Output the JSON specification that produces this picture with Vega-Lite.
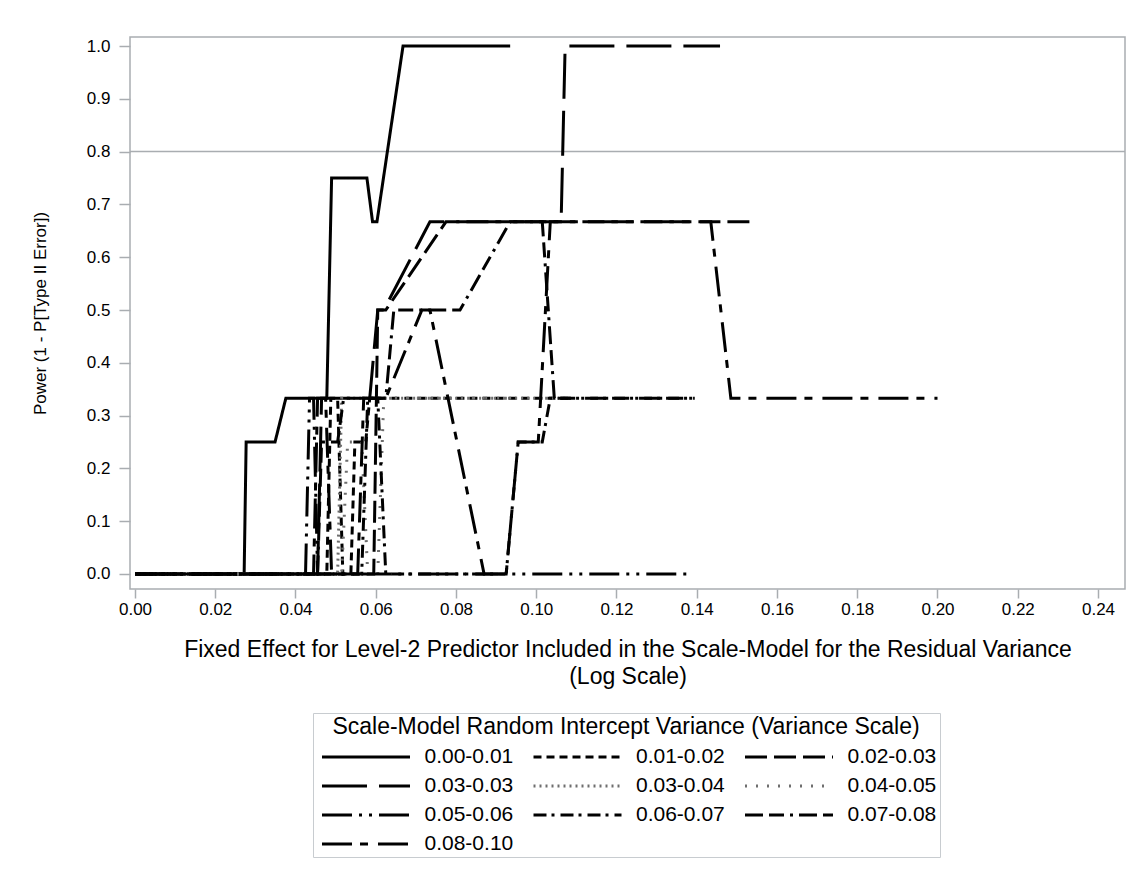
{
  "$schema": "https://vega.github.io/schema/vega-lite/v6.json",
  "width": 995,
  "height": 552,
  "autosize": {"type": "none"},
  "padding": {"left": 130, "top": 37, "right": 23, "bottom": 280},
  "background": "white",
  "config": {
    "font": "Liberation Sans",
    "view": {"stroke": "#a9adb1", "strokeWidth": 1.5}
  },
  "layer": [
    {
      "data": {"values": [{"ref": 0.8}]},
      "mark": {"type": "rule", "color": "#a9adb1", "strokeWidth": 1.5},
      "encoding": {
        "y": {"datum": 0.8, "type": "quantitative"}
      }
    },
    {
      "data": {
        "values": [
          {"s": "0.00-0.01", "x": 0, "y": 0},
          {"s": "0.00-0.01", "x": 0.0272, "y": 0},
          {"s": "0.00-0.01", "x": 0.0277, "y": 0.25},
          {"s": "0.00-0.01", "x": 0.0349, "y": 0.25},
          {"s": "0.00-0.01", "x": 0.0376, "y": 0.333},
          {"s": "0.00-0.01", "x": 0.0478, "y": 0.333},
          {"s": "0.00-0.01", "x": 0.049, "y": 0.75},
          {"s": "0.00-0.01", "x": 0.0578, "y": 0.75},
          {"s": "0.00-0.01", "x": 0.0592, "y": 0.667},
          {"s": "0.00-0.01", "x": 0.0603, "y": 0.667},
          {"s": "0.00-0.01", "x": 0.0668, "y": 1.0},
          {"s": "0.00-0.01", "x": 0.0935, "y": 1.0},

          {"s": "0.01-0.02", "x": 0, "y": 0},
          {"s": "0.01-0.02", "x": 0.0478, "y": 0},
          {"s": "0.01-0.02", "x": 0.0488, "y": 0.333},
          {"s": "0.01-0.02", "x": 0.0505, "y": 0.333},
          {"s": "0.01-0.02", "x": 0.0518, "y": 0},
          {"s": "0.01-0.02", "x": 0.0538, "y": 0},
          {"s": "0.01-0.02", "x": 0.0548, "y": 0.25},
          {"s": "0.01-0.02", "x": 0.0575, "y": 0.25},
          {"s": "0.01-0.02", "x": 0.0585, "y": 0.333},
          {"s": "0.01-0.02", "x": 0.1085, "y": 0.333},

          {"s": "0.02-0.03", "x": 0, "y": 0},
          {"s": "0.02-0.03", "x": 0.0595, "y": 0},
          {"s": "0.02-0.03", "x": 0.0605, "y": 0.5},
          {"s": "0.02-0.03", "x": 0.0625, "y": 0.5},
          {"s": "0.02-0.03", "x": 0.0775, "y": 0.667},
          {"s": "0.02-0.03", "x": 0.154, "y": 0.667},

          {"s": "0.03-0.03", "x": 0, "y": 0},
          {"s": "0.03-0.03", "x": 0.0455, "y": 0},
          {"s": "0.03-0.03", "x": 0.0465, "y": 0.333},
          {"s": "0.03-0.03", "x": 0.0585, "y": 0.333},
          {"s": "0.03-0.03", "x": 0.0605, "y": 0.5},
          {"s": "0.03-0.03", "x": 0.062, "y": 0.5},
          {"s": "0.03-0.03", "x": 0.0735, "y": 0.667},
          {"s": "0.03-0.03", "x": 0.1062, "y": 0.667},
          {"s": "0.03-0.03", "x": 0.1072, "y": 1.0},
          {"s": "0.03-0.03", "x": 0.1458, "y": 1.0},

          {"s": "0.03-0.04", "x": 0, "y": 0},
          {"s": "0.03-0.04", "x": 0.0505, "y": 0},
          {"s": "0.03-0.04", "x": 0.0515, "y": 0.333},
          {"s": "0.03-0.04", "x": 0.1085, "y": 0.333},

          {"s": "0.04-0.05", "x": 0, "y": 0},
          {"s": "0.04-0.05", "x": 0.0515, "y": 0},
          {"s": "0.04-0.05", "x": 0.053, "y": 0.25},
          {"s": "0.04-0.05", "x": 0.0565, "y": 0.25},
          {"s": "0.04-0.05", "x": 0.058, "y": 0},
          {"s": "0.04-0.05", "x": 0.0605, "y": 0},
          {"s": "0.04-0.05", "x": 0.062, "y": 0.333},
          {"s": "0.04-0.05", "x": 0.095, "y": 0.333},

          {"s": "0.05-0.06", "x": 0, "y": 0},
          {"s": "0.05-0.06", "x": 0.0425, "y": 0},
          {"s": "0.05-0.06", "x": 0.0435, "y": 0.333},
          {"s": "0.05-0.06", "x": 0.0445, "y": 0.333},
          {"s": "0.05-0.06", "x": 0.0455, "y": 0},
          {"s": "0.05-0.06", "x": 0.1375, "y": 0},

          {"s": "0.06-0.07", "x": 0, "y": 0},
          {"s": "0.06-0.07", "x": 0.0565, "y": 0},
          {"s": "0.06-0.07", "x": 0.058, "y": 0.333},
          {"s": "0.06-0.07", "x": 0.0605, "y": 0.333},
          {"s": "0.06-0.07", "x": 0.0625, "y": 0},
          {"s": "0.06-0.07", "x": 0.0925, "y": 0},
          {"s": "0.06-0.07", "x": 0.0955, "y": 0.25},
          {"s": "0.06-0.07", "x": 0.1015, "y": 0.25},
          {"s": "0.06-0.07", "x": 0.1035, "y": 0.333},
          {"s": "0.06-0.07", "x": 0.1395, "y": 0.333},

          {"s": "0.07-0.08", "x": 0, "y": 0},
          {"s": "0.07-0.08", "x": 0.0455, "y": 0},
          {"s": "0.07-0.08", "x": 0.0465, "y": 0.25},
          {"s": "0.07-0.08", "x": 0.0505, "y": 0.25},
          {"s": "0.07-0.08", "x": 0.052, "y": 0.333},
          {"s": "0.07-0.08", "x": 0.0625, "y": 0.333},
          {"s": "0.07-0.08", "x": 0.0645, "y": 0.5},
          {"s": "0.07-0.08", "x": 0.081, "y": 0.5},
          {"s": "0.07-0.08", "x": 0.0935, "y": 0.667},
          {"s": "0.07-0.08", "x": 0.1015, "y": 0.667},
          {"s": "0.07-0.08", "x": 0.1045, "y": 0.333},
          {"s": "0.07-0.08", "x": 0.1395, "y": 0.333},

          {"s": "0.08-0.10", "x": 0, "y": 0},
          {"s": "0.08-0.10", "x": 0.0445, "y": 0},
          {"s": "0.08-0.10", "x": 0.0455, "y": 0.333},
          {"s": "0.08-0.10", "x": 0.0475, "y": 0.333},
          {"s": "0.08-0.10", "x": 0.049, "y": 0},
          {"s": "0.08-0.10", "x": 0.0555, "y": 0},
          {"s": "0.08-0.10", "x": 0.057, "y": 0.333},
          {"s": "0.08-0.10", "x": 0.0625, "y": 0.333},
          {"s": "0.08-0.10", "x": 0.0715, "y": 0.5},
          {"s": "0.08-0.10", "x": 0.0735, "y": 0.5},
          {"s": "0.08-0.10", "x": 0.087, "y": 0},
          {"s": "0.08-0.10", "x": 0.0925, "y": 0},
          {"s": "0.08-0.10", "x": 0.0955, "y": 0.25},
          {"s": "0.08-0.10", "x": 0.1005, "y": 0.25},
          {"s": "0.08-0.10", "x": 0.1035, "y": 0.667},
          {"s": "0.08-0.10", "x": 0.1435, "y": 0.667},
          {"s": "0.08-0.10", "x": 0.1485, "y": 0.333},
          {"s": "0.08-0.10", "x": 0.2, "y": 0.333}
        ]
      },
      "mark": {"type": "line", "strokeWidth": 3, "strokeCap": "butt", "strokeJoin": "miter", "clip": true},
      "encoding": {
        "x": {
          "field": "x",
          "type": "quantitative",
          "scale": {"domain": [-0.001246, 0.246729], "nice": false, "zero": false},
          "axis": {
            "values": [0, 0.02, 0.04, 0.06, 0.08, 0.1, 0.12, 0.14, 0.16, 0.18, 0.2, 0.22, 0.24],
            "format": ".2f",
            "title": ["Fixed Effect for Level-2 Predictor Included in the Scale-Model for the Residual Variance", "(Log Scale)"],
            "grid": false,
            "domain": false,
            "tickColor": "#a9adb1",
            "tickWidth": 1.5,
            "tickSize": 9,
            "labelPadding": 3,
            "labelFontSize": 17,
            "labelColor": "black",
            "labelFlush": false,
            "titleFontSize": 23,
            "titleFontWeight": "normal",
            "titleColor": "black",
            "titlePadding": 21,
            "titleLineHeight": 27
          }
        },
        "y": {
          "field": "y",
          "type": "quantitative",
          "scale": {"domain": [-0.02841, 1.01705], "nice": false, "zero": false},
          "axis": {
            "values": [0, 0.1, 0.2, 0.3, 0.4, 0.5, 0.6, 0.7, 0.8, 0.9, 1.0],
            "format": ".1f",
            "title": "Power (1 - P[Type II Error])",
            "grid": false,
            "domain": false,
            "tickColor": "#a9adb1",
            "tickWidth": 1.5,
            "tickSize": 11,
            "labelPadding": 9,
            "labelFontSize": 17,
            "labelColor": "black",
            "labelFlush": false,
            "titleFontSize": 17,
            "titleFontWeight": "normal",
            "titleColor": "black",
            "titlePadding": 37
          }
        },
        "color": {
          "field": "s",
          "type": "nominal",
          "scale": {
            "domain": ["0.00-0.01", "0.01-0.02", "0.02-0.03", "0.03-0.03", "0.03-0.04", "0.04-0.05", "0.05-0.06", "0.06-0.07", "0.07-0.08", "0.08-0.10"],
            "range": ["#000000", "#000000", "#000000", "#000000", "#6e6e6e", "#6e6e6e", "#000000", "#000000", "#000000", "#000000"]
          },
          "legend": {
            "title": "Scale-Model Random Intercept Variance (Variance Scale)"
          }
        },
        "strokeDash": {
          "field": "s",
          "type": "nominal",
          "scale": {
            "domain": ["0.00-0.01", "0.01-0.02", "0.02-0.03", "0.03-0.03", "0.03-0.04", "0.04-0.05", "0.05-0.06", "0.06-0.07", "0.07-0.08", "0.08-0.10"],
            "range": [[1, 0], [8, 5], [22, 7], [45, 12], [2, 4], [2, 9], [30, 7, 3, 7, 3, 7], [13, 5, 3, 6], [18, 6, 15, 6, 3, 6], [30, 8, 8, 10]]
          },
          "legend": {
            "title": "Scale-Model Random Intercept Variance (Variance Scale)",
            "orient": "none",
            "direction": "horizontal",
            "legendX": 183,
            "legendY": 676,
            "columns": 3,
            "symbolType": "stroke",
            "symbolSize": 7744,
            "symbolStrokeWidth": 3,
            "clipHeight": 20,
            "rowPadding": 8,
            "columnPadding": 13.5,
            "labelOffset": 13,
            "labelFontSize": 21,
            "labelColor": "black",
            "labelLimit": 300,
            "titleFontSize": 23,
            "titleFontWeight": "normal",
            "titleColor": "black",
            "titleAnchor": "middle",
            "titleLimit": 1000,
            "titlePadding": 8,
            "padding": 3,
            "symbolOffset": 4.5,
            "strokeColor": "#c8ccd0",
            "fillColor": "white"
          }
        }
      }
    }
  ]
}
